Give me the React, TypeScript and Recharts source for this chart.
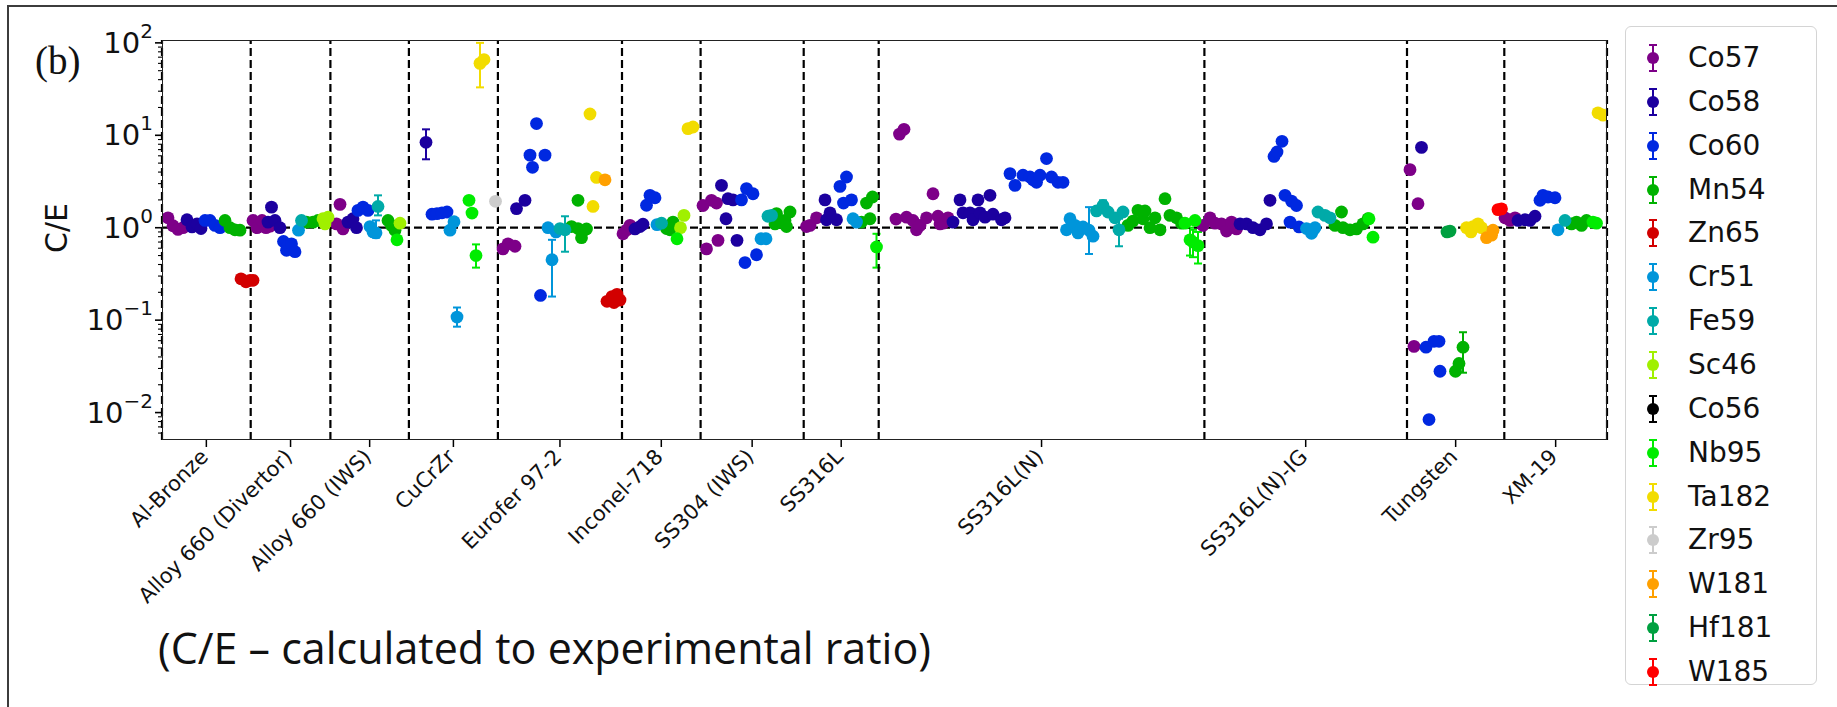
import React from "react";
import { ScatterChart, Scatter, XAxis, YAxis, ReferenceLine, ErrorBar } from "recharts";

// [position index, C/E, lower bound?, upper bound?]
type Pt = [number, number, number?, number?];

const categories = [
  "Al-Bronze",
  "Alloy 660 (Divertor)",
  "Alloy 660 (IWS)",
  "CuCrZr",
  "Eurofer 97-2",
  "Inconel-718",
  "SS304 (IWS)",
  "SS316L",
  "SS316L(N)",
  "SS316L(N)-IG",
  "Tungsten",
  "XM-19",
];
// sample index where each material group starts / ends
const boundaries = [0, 17.74, 33.68, 49.38, 67.18, 92, 107.72, 128.34, 143.34, 208.48, 249, 268.46, 289];
const centers = categories.map((_, i) => (boundaries[i] + boundaries[i + 1]) / 2);

const yMajor = [0.01, 0.1, 1, 10, 100];
const yMajorExp = ["\u22122", "\u22121", "0", "1", "2"];

const co57: Pt[] = [
  [1.2, 1.28], [2.2, 1.05], [3.2, 0.96], [4.2, 1.0],
  [18.2, 1.2], [19, 1.0], [20, 1.2], [20.8, 1.0], [21.6, 1.04],
  [34.9, 1.1], [35.6, 1.79], [36.2, 0.97],
  [68.2, 0.59], [69.2, 0.67], [70.6, 0.63],
  [92.2, 0.86], [93, 0.95], [93.6, 1.06],
  [108.2, 1.74], [108.9, 0.59], [109.9, 1.98], [110.9, 1.85], [111.2, 0.73],
  [128.9, 1.03], [129.6, 1.06], [130.9, 1.28],
  [146.8, 1.24], [147.5, 10.3], [148.4, 11.6], [148.9, 1.3], [150.2, 1.2], [150.9, 0.95], [151.6, 1.06],
  [152.9, 1.28], [154.2, 2.33], [155.2, 1.33], [155.6, 1.1], [156.2, 1.12], [157.2, 1.28],
  [208.2, 1.06], [209.6, 1.28], [210.6, 1.12], [211.9, 1.1], [212.9, 0.92], [213.9, 1.15], [214.9, 0.97],
  [249.6, 4.25], [250.4, 0.052], [251.2, 1.82],
  [268.6, 1.28], [269.6, 1.2], [270.6, 1.28],
];

const co58: Pt[] = [
  [5, 1.22], [6, 1.02], [7, 1.1], [7.8, 0.98],
  [21.2, 1.15], [21.9, 1.67], [22.6, 1.2], [23.6, 1.0],
  [37.2, 1.15], [38.2, 1.25], [38.9, 1.0],
  [52.8, 8.4, 5.5, 11.6],
  [70.9, 1.61], [72.6, 1.98],
  [94.6, 0.97], [95.6, 1.03], [96.2, 1.09],
  [111.9, 2.87], [112.8, 1.25], [113.2, 2.06], [114.2, 2.0], [115, 0.73],
  [132.6, 2.0], [132.9, 1.22], [133.6, 1.45], [134.9, 1.22],
  [158.2, 1.15], [159.6, 2.0], [160.2, 1.45], [161.6, 1.45], [162.2, 1.22], [163.2, 2.0], [163.6, 1.45],
  [164.6, 1.3], [165.6, 2.24], [166.2, 1.4], [167.9, 1.22], [168.6, 1.28],
  [215.6, 1.1], [216.9, 1.1], [218.2, 1.0], [219.6, 0.95], [220.9, 1.1], [221.6, 1.98],
  [251.9, 7.4],
  [271.2, 1.2], [272.6, 1.22], [273.6, 1.2], [274.6, 1.33],
];

const co60: Pt[] = [
  [8.6, 1.2], [9.6, 1.2], [10.6, 1.06], [11.6, 1.0],
  [24.3, 0.71], [24.9, 0.57], [25.2, 0.64], [25.9, 0.67], [26.6, 0.55],
  [39.2, 1.54], [40.2, 1.67], [41.2, 1.54],
  [54, 1.4], [55, 1.42], [56, 1.45], [57, 1.48],
  [73.6, 6.1], [74.1, 4.5], [74.9, 13.4], [75.7, 0.185], [76.6, 6.1],
  [96.9, 1.75], [97.6, 2.24], [98.6, 2.11],
  [115.9, 2.0], [116.6, 0.42], [116.9, 2.65], [118.2, 2.33], [118.9, 0.51],
  [135.6, 2.8], [136.3, 1.85], [136.9, 3.54], [137.9, 2.0],
  [169.6, 3.85], [170.6, 2.87], [172.2, 3.7], [173.6, 3.54], [174.2, 3.3], [174.9, 3.1], [175.6, 3.7],
  [176.9, 5.6], [177.9, 3.54], [179.2, 3.1], [180.2, 3.1],
  [222.4, 5.9], [223, 6.6], [224, 8.6], [224.6, 2.24], [225.6, 1.15], [225.9, 1.94], [226.9, 1.74], [227.4, 1.02],
  [252.8, 0.051], [253.4, 0.0084], [254.4, 0.059], [255.4, 0.059], [255.6, 0.028],
  [275.6, 1.98], [276.2, 2.24], [277.2, 2.15], [278.6, 2.11],
];

const mn54: Pt[] = [
  [12.6, 1.2], [13.6, 1.0], [14.6, 0.95], [15.6, 0.94],
  [28.9, 1.15], [30.2, 1.15], [31.2, 1.2],
  [45.2, 1.2], [45.9, 1.06], [46.6, 0.94],
  [81.9, 1.03], [83.2, 1.98], [83.2, 0.98], [83.9, 0.78], [84.2, 0.92], [84.9, 0.97],
  [100.9, 0.98], [101.6, 0.95], [102.2, 1.15],
  [122.6, 1.1], [122.9, 1.42], [123.9, 1.15], [124.6, 1.2], [124.9, 1.03], [125.6, 1.48],
  [139.9, 1.15], [140.9, 1.85], [141.6, 1.25], [142.1, 2.15],
  [193.2, 1.06], [194.2, 1.18], [195.2, 1.54], [196.2, 1.25], [196.6, 1.52], [197.6, 1.0], [198.6, 1.28],
  [199.6, 0.95], [200.6, 2.06], [201.6, 1.36], [202.9, 1.28], [203.9, 1.12],
  [234.6, 1.06], [235.9, 1.48], [236.2, 1.0], [237.6, 0.95], [238.9, 0.97], [240.2, 1.1], [241.2, 1.25],
  [258.7, 0.028], [259.4, 0.034], [260.2, 0.051, 0.027, 0.074],
  [281.9, 1.1], [282.9, 1.15], [283.9, 1.06], [284.9, 1.2],
];

const zn65: Pt[] = [
  [15.8, 0.28], [16.8, 0.26], [17.6, 0.27], [18.2, 0.27],
  [89, 0.16], [90, 0.18], [90.4, 0.155], [91, 0.19], [91.6, 0.165],
];

const cr51: Pt[] = [
  [27.3, 0.94],
  [41.6, 1.03], [42.2, 0.9], [42.8, 0.88, 0.78, 1.2],
  [57.6, 0.94], [58.4, 1.16], [59, 0.108, 0.085, 0.137],
  [77.2, 1.0], [78, 0.45, 0.18, 0.74], [78.8, 0.9],
  [99, 1.08],
  [119.8, 0.76], [120.8, 0.76],
  [138.2, 1.25], [138.9, 1.15],
  [180.9, 0.95], [181.6, 1.25], [182.6, 1.06], [183.2, 0.88], [184.2, 1.02], [185.4, 0.94, 0.52, 1.67], [186.2, 0.81],
  [228.9, 0.98], [229.9, 0.87], [230.2, 0.94], [230.6, 1.0],
  [279.2, 0.95],
];

const fe59: Pt[] = [
  [27.9, 1.2],
  [43.2, 1.7, 1.36, 2.24],
  [79.6, 0.98], [80.6, 0.95, 0.55, 1.33],
  [99.9, 1.12],
  [121.2, 1.33], [121.9, 1.36],
  [186.9, 1.52], [188.2, 1.74, 1.5, 1.98], [189.2, 1.48], [190.6, 1.28], [191.4, 0.95, 0.63, 1.25], [192.2, 1.48],
  [231.2, 1.48], [232.6, 1.36], [233.6, 1.28],
  [280.6, 1.2],
];

const sc46: Pt[] = [
  [32.2, 1.25], [32.6, 1.1], [33.2, 1.3],
  [47.6, 1.12],
  [103.7, 1.0], [104.4, 1.36],
];

const co56: Pt[] = [];

const nb95: Pt[] = [
  [47, 0.74],
  [61.4, 1.98], [62, 1.44], [62.8, 0.5, 0.37, 0.66],
  [103, 0.76],
  [142.9, 0.62, 0.37, 0.86],
  [204.6, 1.12], [205.6, 0.74, 0.5, 1.0], [206.2, 0.7, 0.48, 0.95], [206.6, 1.2], [207.2, 0.64, 0.41, 0.9],
  [241.4, 1.25], [242.2, 0.79],
  [286.2, 1.15], [286.9, 1.12],
];

const ta182: Pt[] = [
  [63.6, 60, 33, 100], [64.4, 66],
  [85.6, 17], [86.2, 1.7], [86.9, 3.5],
  [105.2, 11.8], [106.2, 12.3],
  [260.9, 1.0], [261.8, 0.9], [262.2, 1.03], [263.2, 1.1], [263.9, 1.0],
  [287.2, 17.5], [288.2, 16.5],
];

const zr95: Pt[] = [[66.7, 1.93]];
const w181: Pt[] = [[88.6, 3.3], [264.9, 0.78], [265.9, 0.83], [266.2, 0.94]];
const hf181: Pt[] = [[257, 0.9], [257.6, 0.92]];
const w185: Pt[] = [[267.2, 1.57], [267.9, 1.6]];

const series = [
  { name: "Co57", color: "#7d0088", pts: co57 },
  { name: "Co58", color: "#1c009f", pts: co58 },
  { name: "Co60", color: "#0028e0", pts: co60 },
  { name: "Mn54", color: "#00b200", pts: mn54 },
  { name: "Zn65", color: "#d20000", pts: zn65 },
  { name: "Cr51", color: "#0095da", pts: cr51 },
  { name: "Fe59", color: "#00aaa8", pts: fe59 },
  { name: "Sc46", color: "#a0f000", pts: sc46 },
  { name: "Co56", color: "#000000", pts: co56 },
  { name: "Nb95", color: "#00ec00", pts: nb95 },
  { name: "Ta182", color: "#f2dc00", pts: ta182 },
  { name: "Zr95", color: "#cccccc", pts: zr95 },
  { name: "W181", color: "#ffa000", pts: w181 },
  { name: "Hf181", color: "#00a040", pts: hf181 },
  { name: "W185", color: "#ff0000", pts: w185 },
];

const PLOT_LEFT = 162;
const PLOT_TOP = 40;
const PLOT_RIGHT = 1607;
const PLOT_BOTTOM = 440;
const Y_MIN = 0.00505;
const Y_MAX = 107.4;

const yMinor: number[] = [];
for (let d = -3; d <= 2; d++) {
  for (let k = 2; k <= 9; k++) {
    const v = k * Math.pow(10, d);
    if (v > Y_MIN && v < Y_MAX) yMinor.push(v);
  }
}
const yTicks = [...yMajor, ...yMinor].sort((a, b) => a - b);

const toRows = (pts: Pt[]) =>
  pts.map(([x, y, lo, hi]) => ({
    x,
    y,
    err: lo !== undefined && hi !== undefined ? [y - lo, hi - y] : undefined,
  }));

const YTick = (props: any) => {
  const { y, payload } = props;
  const i = yMajor.findIndex((m) => Math.abs(m - payload.value) / m < 1e-6);
  const major = i >= 0;
  return (
    <g>
      <line
        x1={PLOT_LEFT - (major ? 7 : 4)}
        x2={PLOT_LEFT}
        y1={y}
        y2={y}
        stroke="#000"
        strokeWidth={major ? 1.6 : 1.1}
      />
      {major && (
        <text
          x={PLOT_LEFT - 9}
          y={y + 10}
          textAnchor="end"
          fontFamily="DejaVu Sans"
          fontSize={29}
          fill="#111"
        >
          10
          <tspan dy={-15} fontSize={20}>
            {yMajorExp[i]}
          </tspan>
        </text>
      )}
    </g>
  );
};

const XTick = (props: any) => {
  const { x, payload } = props;
  const i = centers.findIndex((c) => Math.abs(c - payload.value) < 1e-6);
  const tx = x + 3;
  const ty = PLOT_BOTTOM + 18;
  return (
    <g>
      <line x1={x} x2={x} y1={PLOT_BOTTOM} y2={PLOT_BOTTOM + 7} stroke="#000" strokeWidth={1.5} />
      <text
        x={tx}
        y={ty}
        textAnchor="end"
        transform={`rotate(-45, ${tx}, ${ty})`}
        fontFamily="DejaVu Sans"
        fontSize={21}
        fill="#111"
      >
        {categories[i]}
      </text>
    </g>
  );
};

const LegendIcon = ({ color }: { color: string }) => (
  <svg width={20} height={30} style={{ display: "block" }}>
    <line x1={10} x2={10} y1={2} y2={28} stroke={color} strokeWidth={2} />
    <line x1={6} x2={14} y1={2} y2={2} stroke={color} strokeWidth={2} />
    <line x1={6} x2={14} y1={28} y2={28} stroke={color} strokeWidth={2} />
    <circle cx={10} cy={15} r={6} fill={color} />
  </svg>
);

export default function App() {
  return (
    <div
      style={{
        position: "absolute",
        left: 0,
        top: 0,
        width: 1837,
        height: 707,
        background: "#fff",
        overflow: "hidden",
      }}
    >
      <div
        style={{
          position: "absolute",
          left: 7,
          top: 5,
          width: 1900,
          height: 800,
          borderLeft: "2px solid #3c3c3c",
          borderTop: "2px solid #3c3c3c",
        }}
      />
      <div style={{ position: "absolute", left: 0, top: 0 }}>
        <ScatterChart width={1620} height={707} margin={{ top: PLOT_TOP, right: 1620 - PLOT_RIGHT, bottom: 0, left: 0 }}>
          <XAxis
            type="number"
            dataKey="x"
            domain={[boundaries[0], boundaries[boundaries.length - 1]]}
            ticks={centers}
            interval={0}
            allowDataOverflow
            tick={<XTick />}
            tickLine={false}
            axisLine={false}
            height={707 - PLOT_BOTTOM}
          />
          <YAxis
            type="number"
            dataKey="y"
            scale="log"
            domain={[Y_MIN, Y_MAX]}
            allowDataOverflow
            ticks={yTicks}
            interval={0}
            tick={<YTick />}
            tickLine={false}
            axisLine={false}
            width={PLOT_LEFT}
          />
          {series.map((s) => (
            <Scatter
              key={s.name}
              name={s.name}
              data={toRows(s.pts)}
              fill={s.color}
              isAnimationActive={false}
              shape={(p: any) => <circle cx={p.cx} cy={p.cy} r={6.4} fill={s.color} />}
            >
              <ErrorBar
                dataKey="err"
                direction="y"
                width={4}
                stroke={s.color}
                strokeWidth={2}
                isAnimationActive={false}
              />
            </Scatter>
          ))}
          {boundaries.map((b) => (
            <ReferenceLine key={b} x={b} stroke="#000" strokeDasharray="8 4" strokeWidth={2.2} />
          ))}
          <ReferenceLine y={1} stroke="#000" strokeDasharray="8 4" strokeWidth={2.2} />
        </ScatterChart>
      </div>
      <div
        style={{
          position: "absolute",
          left: PLOT_LEFT,
          top: PLOT_TOP,
          width: PLOT_RIGHT - PLOT_LEFT,
          height: PLOT_BOTTOM - PLOT_TOP,
          border: "1.5px solid #222",
          boxSizing: "border-box",
          pointerEvents: "none",
        }}
      />
      <div
        style={{
          position: "absolute",
          left: 56,
          top: 228,
          transform: "translate(-50%, -50%) rotate(-90deg)",
          fontFamily: "DejaVu Sans",
          fontSize: 30,
          color: "#111",
          whiteSpace: "nowrap",
        }}
      >
        C/E
      </div>
      <div
        style={{
          position: "absolute",
          left: 35,
          top: 38,
          fontFamily: "Liberation Serif",
          fontSize: 39,
          color: "#111",
        }}
      >
        (b)
      </div>
      <div
        style={{
          position: "absolute",
          left: 158,
          top: 618,
          fontFamily: "Open Sans",
          fontSize: 43,
          color: "#111",
          whiteSpace: "nowrap",
        }}
      >
        (C/E – calculated to experimental ratio)
      </div>
      <div
        style={{
          position: "absolute",
          left: 1625,
          top: 26,
          width: 192,
          height: 659,
          border: "1.5px solid #d4d4d4",
          borderRadius: 6,
          boxSizing: "border-box",
          background: "#fff",
        }}
      >
        {series.map((s, i) => (
          <div
            key={s.name}
            style={{
              position: "absolute",
              left: 17,
              top: 16 + i * 43.86,
              height: 30,
              display: "flex",
              alignItems: "center",
            }}
          >
            <LegendIcon color={s.color} />
            <span
              style={{
                marginLeft: 25,
                fontFamily: "DejaVu Sans",
                fontSize: 28,
                color: "#111",
                lineHeight: "30px",
              }}
            >
              {s.name}
            </span>
          </div>
        ))}
      </div>
    </div>
  );
}
